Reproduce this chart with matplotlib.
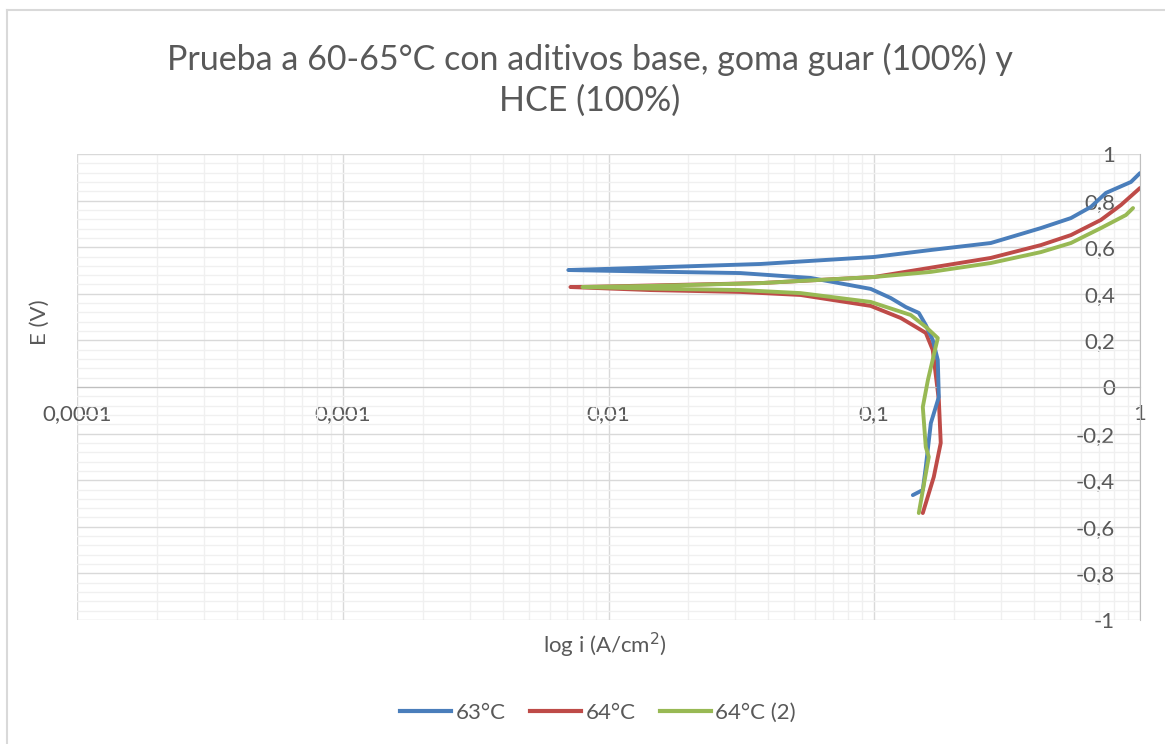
import matplotlib
matplotlib.use("Agg")
import matplotlib.pyplot as plt
from matplotlib.ticker import FixedLocator, FixedFormatter, LogLocator, MultipleLocator, NullFormatter
from matplotlib.lines import Line2D

plt.rcParams['font.family'] = ['Lato', 'DejaVu Sans']

# 63°C  (log i in A/cm2, E in V)
i_63 = [0.1397, 0.1523, 0.1563, 0.1633, 0.1750, 0.1734, 0.1660, 0.1563, 0.1471,
        0.1315, 0.1153, 0.0970, 0.0577, 0.0314, 0.0150, 0.00706,
        0.0093, 0.0374, 0.0996, 0.1633, 0.2746, 0.4236, 0.5497, 0.6535, 0.7447,
        0.9247, 1.0]
E_63 = [-0.464, -0.442, -0.343, -0.155, -0.043, 0.116, 0.202, 0.266, 0.318,
        0.343, 0.382, 0.421, 0.468, 0.489, 0.495, 0.502,
        0.506, 0.528, 0.558, 0.588, 0.618, 0.682, 0.725, 0.773, 0.833,
        0.880, 0.918]

# 64°C
i_64 = [0.1523, 0.1675, 0.1779, 0.1750, 0.1660, 0.1563, 0.1433, 0.1259, 0.0970,
        0.0528, 0.0314, 0.0144, 0.00719,
        0.00933, 0.0374, 0.0996, 0.1779, 0.2746, 0.4236, 0.5497, 0.7125,
        0.8476, 1.0]
E_64 = [-0.541, -0.386, -0.240, -0.056, 0.159, 0.232, 0.258, 0.296, 0.348,
        0.395, 0.408, 0.416, 0.429,
        0.431, 0.446, 0.472, 0.519, 0.554, 0.609, 0.652, 0.717,
        0.781, 0.854]

# 64°C (2)
i_64b = [0.1471, 0.1604, 0.1563, 0.1523, 0.1592, 0.1734, 0.1563, 0.1372, 0.0970,
         0.0528, 0.0314, 0.0150, 0.00798,
         0.0150, 0.0374, 0.0996, 0.1633, 0.2746, 0.4236, 0.5497, 0.7125,
         0.8850, 0.9415]
E_64b = [-0.541, -0.300, -0.258, -0.086, 0.030, 0.210, 0.258, 0.309, 0.365,
         0.403, 0.416, 0.422, 0.429,
         0.434, 0.446, 0.472, 0.494, 0.532, 0.579, 0.618, 0.682,
         0.738, 0.768]

x_ticks = [0.0001, 0.001, 0.01, 0.1, 1]
x_labels = ["0,0001", "0,001", "0,01", "0,1", "1"]
y_ticks = [-1, -0.8, -0.6, -0.4, -0.2, 0, 0.2, 0.4, 0.6, 0.8, 1]
y_labels = ["-1", "-0,8", "-0,6", "-0,4", "-0,2", "0", "0,2", "0,4", "0,6", "0,8", "1"]

blue = "#4a7ebb"
red = "#be4b48"
green = "#98b954"
gray_txt = "#595959"

fig = plt.figure(figsize=(11.65, 7.44), dpi=100)
ax = fig.add_axes([77 / 1165, 1 - 620 / 744, (1140 - 77) / 1165, (620 - 154) / 744])

ax.set_xscale("log")
ax.set_xlim(0.0001, 1)
ax.set_ylim(-1, 1)

ax.xaxis.set_major_locator(FixedLocator(x_ticks))
ax.xaxis.set_major_formatter(FixedFormatter(x_labels))
ax.xaxis.set_minor_locator(LogLocator(base=10, subs=range(2, 10)))
ax.xaxis.set_minor_formatter(NullFormatter())
ax.yaxis.set_major_locator(FixedLocator(y_ticks))
ax.yaxis.set_major_formatter(FixedFormatter(y_labels))
ax.yaxis.set_minor_locator(MultipleLocator(0.04))

ax.grid(which="major", color="#d9d9d9", linewidth=1.0)
ax.grid(which="minor", color="#f0f0f0", linewidth=1.0)
ax.set_axisbelow(True)

for s in ["top", "right"]:
    ax.spines[s].set_visible(False)
ax.spines["bottom"].set_position(("data", 0))
ax.spines["bottom"].set_color("#bfbfbf")
ax.spines["left"].set_position(("data", 1))
ax.spines["left"].set_color("#bfbfbf")

ax.tick_params(axis="both", which="both", length=0, labelsize=16, colors=gray_txt)
ax.tick_params(axis="x", pad=12)
ax.tick_params(axis="y", pad=18)

lw = 2.8
ax.plot(i_63, E_63, color=blue, lw=lw, solid_capstyle="round", zorder=3)
ax.plot(i_64, E_64, color=red, lw=lw, solid_capstyle="round", zorder=2)
ax.plot(i_64b, E_64b, color=green, lw=lw, solid_capstyle="round", zorder=4)

fig.text(590 / 1165, 1 - 80 / 744,
         "Prueba a 60-65°C con aditivos base, goma guar (100%) y\nHCE (100%)",
         ha="center", va="center", fontsize=24.5, color=gray_txt, linespacing=1.3)
fig.text(40 / 1165, 1 - 322 / 744, "E (V)", rotation=90, ha="center", va="center",
         fontsize=16, color=gray_txt)
fig.text(605 / 1165, 1 - 645 / 744, "log i (A/cm$^2$)", ha="center", va="center",
         fontsize=16, color=gray_txt)

handles = [Line2D([], [], color=blue, lw=3),
           Line2D([], [], color=red, lw=3),
           Line2D([], [], color=green, lw=3)]
fig.legend(handles, ["63°C", "64°C", "64°C (2)"], loc="center",
           bbox_to_anchor=(598 / 1165, 1 - 713 / 744), ncol=3, frameon=False,
           fontsize=16, handlelength=2.3, columnspacing=1.1, handletextpad=0.2,
           labelcolor=gray_txt)

# chart border (Excel frame)
fig.add_artist(Line2D([6.5 / 1165, 6.5 / 1165], [0, 1 - 10 / 744], color="#d9d9d9", lw=1.5))
fig.add_artist(Line2D([6.5 / 1165, 1], [1 - 10 / 744, 1 - 10 / 744], color="#d9d9d9", lw=1.5))

fig.savefig("out.png", dpi=100, facecolor="white")
